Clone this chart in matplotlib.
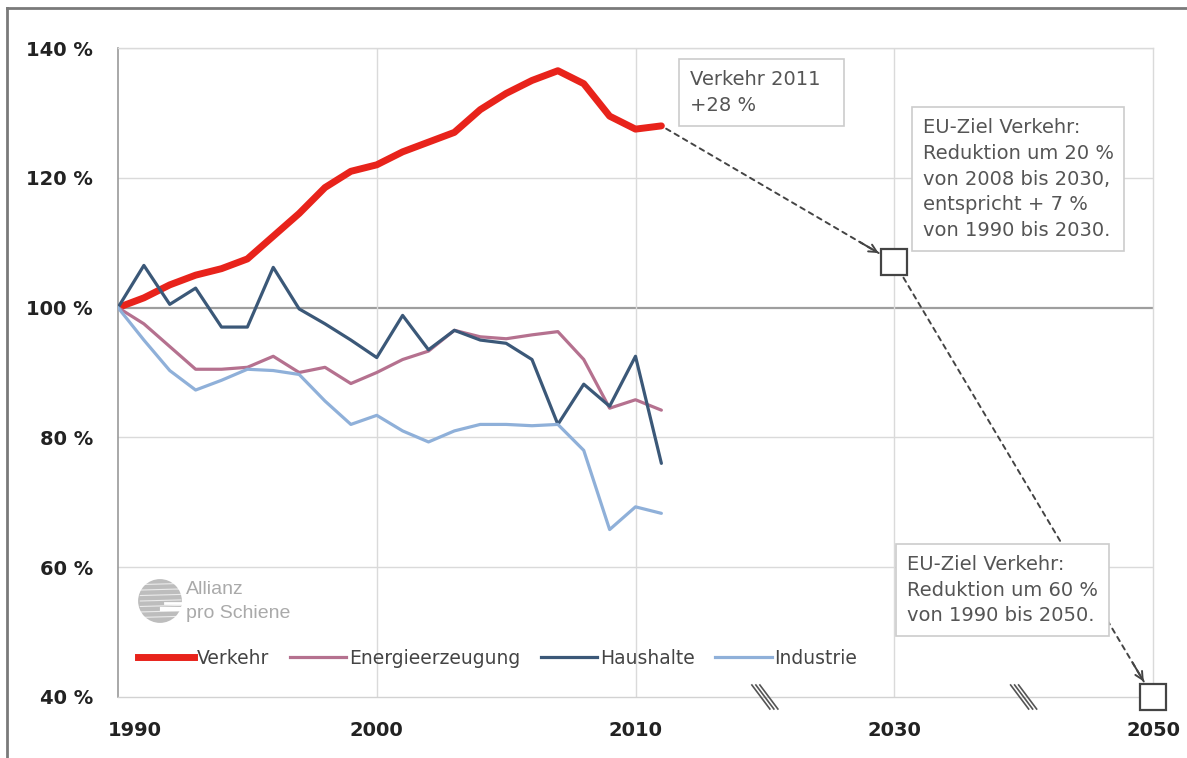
import numpy as np
import matplotlib
matplotlib.use("Agg")
import matplotlib.pyplot as plt
import matplotlib.transforms as mtransforms
from matplotlib.lines import Line2D
from matplotlib.patches import Circle

# Treibhausgas-Emissionen nach Sektoren, 1990 = 100 %
years = list(range(1990, 2012))
verkehr = [100, 101.5, 103.5, 105, 106, 107.5, 111, 114.5, 118.5, 121, 122,
           124, 125.5, 127, 130.5, 133, 135, 136.5, 134.5, 129.5, 127.5, 128]
energie = [100, 97.5, 94, 90.5, 90.5, 90.8, 92.5, 90, 90.8, 88.3, 90,
           92, 93.3, 96.5, 95.5, 95.2, 95.8, 96.3, 92, 84.5, 85.8, 84.2]
haushalte = [100, 106.5, 100.5, 103, 97, 97, 106.2, 99.8, 97.5, 95, 92.3,
             98.8, 93.5, 96.5, 95, 94.5, 92, 82, 88.2, 84.8, 92.5, 76]
industrie = [100, 95, 90.3, 87.3, 88.8, 90.5, 90.3, 89.7, 85.6, 82, 83.4,
             81, 79.3, 81, 82, 82, 81.8, 82, 78, 65.8, 69.3, 68.3]

series_names = ["Verkehr", "Energieerzeugung", "Haushalte", "Industrie"]
series_colors = ["#e8231b", "#b5718f", "#3b5878", "#8fb0d9"]
series_widths = [5.0, 2.3, 2.3, 2.3]

# EU-Ziele Verkehr
target_years = [2030, 2050]
target_values = [107, 40]

x_tick_years = [1990, 2000, 2010, 2030, 2050]
y_ticks = [40, 60, 80, 100, 120, 140]
break_years = [2020, 2040]


def xpos(year):
    # the axis is compressed after 2010 (20 years per 10-year slot)
    return year if year <= 2010 else 2010 + (year - 2010) / 2


W, H = 1187, 758
fig = plt.figure(figsize=(W / 100, H / 100), dpi=100)
ax = fig.add_axes([118 / W, 1 - 697 / H, (1153 - 118) / W, (697 - 48) / H])
ax.set_xlim(xpos(1990), xpos(2050))
ax.set_ylim(40, 140)

# grid
for v in y_ticks[1:]:
    if v == 100:
        ax.axhline(v, color="#9e9e9e", lw=1.6, zorder=1)
    else:
        ax.axhline(v, color="#dadada", lw=1.0, zorder=1)
for yr in [2000, 2010, 2030]:
    ax.axvline(xpos(yr), color="#dadada", lw=1.0, zorder=1)

for side, col in [("left", "#9a9a9a"), ("bottom", "#d2d2d2"),
                  ("right", "#dadada"), ("top", "#dadada")]:
    ax.spines[side].set_color(col)
    ax.spines[side].set_linewidth(1.2 if side == "left" else 1.0)

ax.set_yticks(y_ticks, [f"{v} %" for v in y_ticks])
ax.set_xticks([xpos(y) for y in x_tick_years], [str(y) for y in x_tick_years])
ax.tick_params(axis="both", length=0, labelsize=14, labelcolor="#222222")
ax.tick_params(axis="y", pad=18)
ax.tick_params(axis="x", pad=17)
for lbl in ax.get_xticklabels() + ax.get_yticklabels():
    lbl.set_fontweight("bold")
first = ax.get_xticklabels()[0]
first.set_transform(first.get_transform()
                    + mtransforms.ScaledTranslation(0.17, 0, fig.dpi_scale_trans))

# series
all_series = [verkehr, energie, haushalte, industrie]
handles = []
for vals, name, col, lw in zip(all_series, series_names, series_colors, series_widths):
    ax.plot(years, vals, color=col, lw=lw, solid_joinstyle="round",
            solid_capstyle="round", zorder=3 if name != "Verkehr" else 2)
    handles.append(Line2D([], [], color=col, lw=lw, label=name))

# target squares
tx = [xpos(y) for y in target_years]
ax.plot(tx, target_values, "s", ms=19, mfc="white", mec="#444444", mew=1.6,
        clip_on=False, zorder=6)


def dashed_arrow(start, end, shrinkA, shrinkB):
    ax.annotate("", xy=end, xytext=start, annotation_clip=False,
                arrowprops=dict(arrowstyle="-", ls=(0, (2.5, 2.5)), color="#444444",
                                lw=1.4, shrinkA=shrinkA, shrinkB=shrinkB), zorder=4)
    p0 = ax.transData.transform(start)
    p1 = ax.transData.transform(end)
    d = (p1 - p0) / np.hypot(*(p1 - p0))
    back = ax.transData.inverted().transform(p1 - d * 40)
    ax.annotate("", xy=end, xytext=back, annotation_clip=False,
                arrowprops=dict(arrowstyle="->", color="#444444", lw=1.4,
                                mutation_scale=14, shrinkA=0, shrinkB=shrinkB), zorder=4)


dashed_arrow((years[-1], verkehr[-1]), (tx[0], target_values[0]), 4, 13)
dashed_arrow((tx[0], target_values[0]), (tx[1], target_values[1]), 13, 13)

# annotation boxes
box = dict(boxstyle="square,pad=0.55", fc="white", ec="#cccccc", lw=1.2)
ax.text(2012.1, 136.6, "Verkehr 2011  \n+28 %", ha="left", va="top",
        fontsize=14, color="#555555", linespacing=1.45, bbox=box, zorder=7)
ax.text(2021.1, 129.2,
        "EU-Ziel Verkehr:\nReduktion um 20 %\nvon 2008 bis 2030,\n"
        "entspricht + 7 %\nvon 1990 bis 2030.",
        ha="left", va="top", fontsize=14, color="#555555", linespacing=1.45,
        bbox=box, zorder=7)
ax.text(2020.5, 61.9,
        "EU-Ziel Verkehr:\nReduktion um 60 %\nvon 1990 bis 2050.",
        ha="left", va="top", fontsize=14, color="#555555", linespacing=1.45,
        bbox=box, zorder=7)

# axis break marks
for by in break_years:
    cx, cy = ax.transData.transform((xpos(by), 40))
    for d in (-4, 0, 4):
        fig.add_artist(Line2D([cx - 9 + d, cx + 9 + d], [cy + 12, cy - 12],
                              color="#555555", lw=1.2,
                              transform=mtransforms.IdentityTransform()))

# legend
ax.legend(handles=handles, loc="center left",
          bbox_to_anchor=((138 - 118) / 1035, (697 - 658) / 649),
          ncol=4, frameon=False, fontsize=13.5, handlelength=3.0,
          handletextpad=0.15, columnspacing=1.1, borderaxespad=0,
          borderpad=0, labelcolor="#444444")

# Allianz pro Schiene logo
lax = fig.add_axes([137 / W, 1 - 624 / H, 46 / W, 46 / H])
lax.set_xlim(-1.05, 1.05)
lax.set_ylim(-1.05, 1.05)
lax.set_aspect("equal")
lax.axis("off")
lax.add_patch(Circle((0, 0), 1, fc="#bdbdbd", ec="none"))
for yy in np.linspace(-0.75, 0.75, 7):
    lax.plot([-0.9, 0.95], [yy, yy + 0.05], color="white", lw=0.8, alpha=0.7)
lax.plot([0.1, 1.0], [-0.35, -0.35], color="white", lw=3)
lax.plot([0.25, 1.0], [-0.1, -0.1], color="white", lw=2)
fig.text(186 / W, 1 - 590 / H, "Allianz", fontsize=14, color="#aaaaaa",
         family="Liberation Sans", va="center", ha="left")
fig.text(186 / W, 1 - 613 / H, "pro Schiene", fontsize=14, color="#aaaaaa",
         family="Liberation Sans", va="center", ha="left")

# frame lines of the picture
fig.add_artist(Line2D([7 / W, 1], [1 - 8 / H, 1 - 8 / H], color="#7a7a7a", lw=2,
                      transform=fig.transFigure))
fig.add_artist(Line2D([7 / W, 7 / W], [0, 1 - 8 / H], color="#7a7a7a", lw=2,
                      transform=fig.transFigure))

fig.savefig("out.png", dpi=100, facecolor="white")
